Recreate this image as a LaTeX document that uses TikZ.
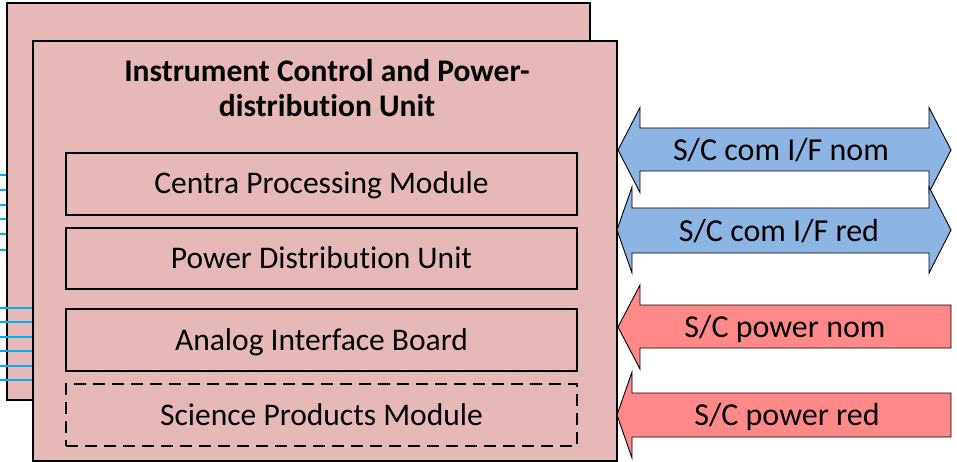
\documentclass[tikz,border=0pt]{standalone}
\usepackage{fontspec}
\setmainfont{Carlito}[Ligatures=NoCommon]
\definecolor{boxfill}{RGB}{230,184,183}
\definecolor{comblue}{RGB}{141,180,226}
\definecolor{pwrred}{RGB}{255,137,137}
\definecolor{wirecol}{RGB}{0,176,240}
\begin{document}
\begin{tikzpicture}[x=1pt,y=-1pt,
  unitbox/.style={draw=black, line width=1.6pt, fill=boxfill, rectangle, inner sep=0pt},
  module/.style={draw=black, line width=1.3pt, rectangle, inner sep=0pt,
    minimum width=511pt, font=\fontsize{31.5}{37}\selectfont, text height=20pt, text depth=0pt},
  titletext/.style={font=\fontsize{31.5}{35}\selectfont\bfseries, anchor=base, inner sep=0pt},
  wire/.style={draw=wirecol, line width=1.3pt},
  ifarrow/.style={draw=black, line width=0.9pt, line join=miter},
  iftext/.style={font=\fontsize{32}{37}\selectfont, text height=20pt, text depth=0pt, inner sep=0pt}]
\useasboundingbox (0,0) rectangle (957,462);
% back unit
\node[unitbox, minimum width=583pt, minimum height=397pt] (back) at (298.5,201.5) {};
% wires into back unit
\foreach \y [count=\i] in {175,190,205,219,234,250}
  \draw[wire] (0,\y) coordinate (wa\i) -- (wa\i -| back.west);
% front unit
\node[unitbox, minimum width=584pt, minimum height=420pt] (front) at (325,251) {};
\foreach \y [count=\i] in {308,322,337,351,366,380}
  \draw[wire] (0,\y) coordinate (wb\i) -- (wb\i -| front.west);
% title
\node[titletext] (title1) at (327,82) {Instrument Control and Power-};
\node[titletext] (title2) at (327,117) {distribution Unit};
% modules
\node[module, minimum height=62pt] (cpm) at (321.5,184) {Centra Processing Module};
\node[module, minimum height=61pt] (pdu) at (321.5,258.5) {Power Distribution Unit};
\node[module, minimum height=62pt] (aib) at (321.5,340) {Analog Interface Board};
\node[module, minimum height=62pt, dash pattern=on 12pt off 7pt] (spm) at (321.5,415) {Science Products Module};
% communication interfaces
\draw[ifarrow, fill=comblue] (618,150) -- (640,107.5) -- (640,128) -- (929,128) -- (929,107.5) -- (951,150)
  -- (929,192.5) -- (929,171) -- (640,171) -- (640,192.5) -- cycle;
\node[iftext] (comnom) at (781,151) {S/C com I/F nom};
\draw[ifarrow, fill=comblue] (617,230) -- (632,187) -- (632,208) -- (929,208) -- (929,187) -- (951,230)
  -- (929,273) -- (929,253) -- (632,253) -- (632,273) -- cycle;
\node[iftext] (comred) at (779,231) {S/C com I/F red};
% power interfaces
\draw[ifarrow, fill=pwrred] (618,327) -- (640,285) -- (640,305) -- (951,305) -- (951,348) -- (640,348) -- (640,369) -- cycle;
\node[iftext] (pwrnom) at (785,327) {S/C power nom};
\draw[ifarrow, fill=pwrred] (617,415) -- (632,372) -- (632,393) -- (951,393) -- (951,437) -- (632,437) -- (632,458) -- cycle;
\node[iftext] (pwrred) at (787,415) {S/C power red};
\end{tikzpicture}
\end{document}
